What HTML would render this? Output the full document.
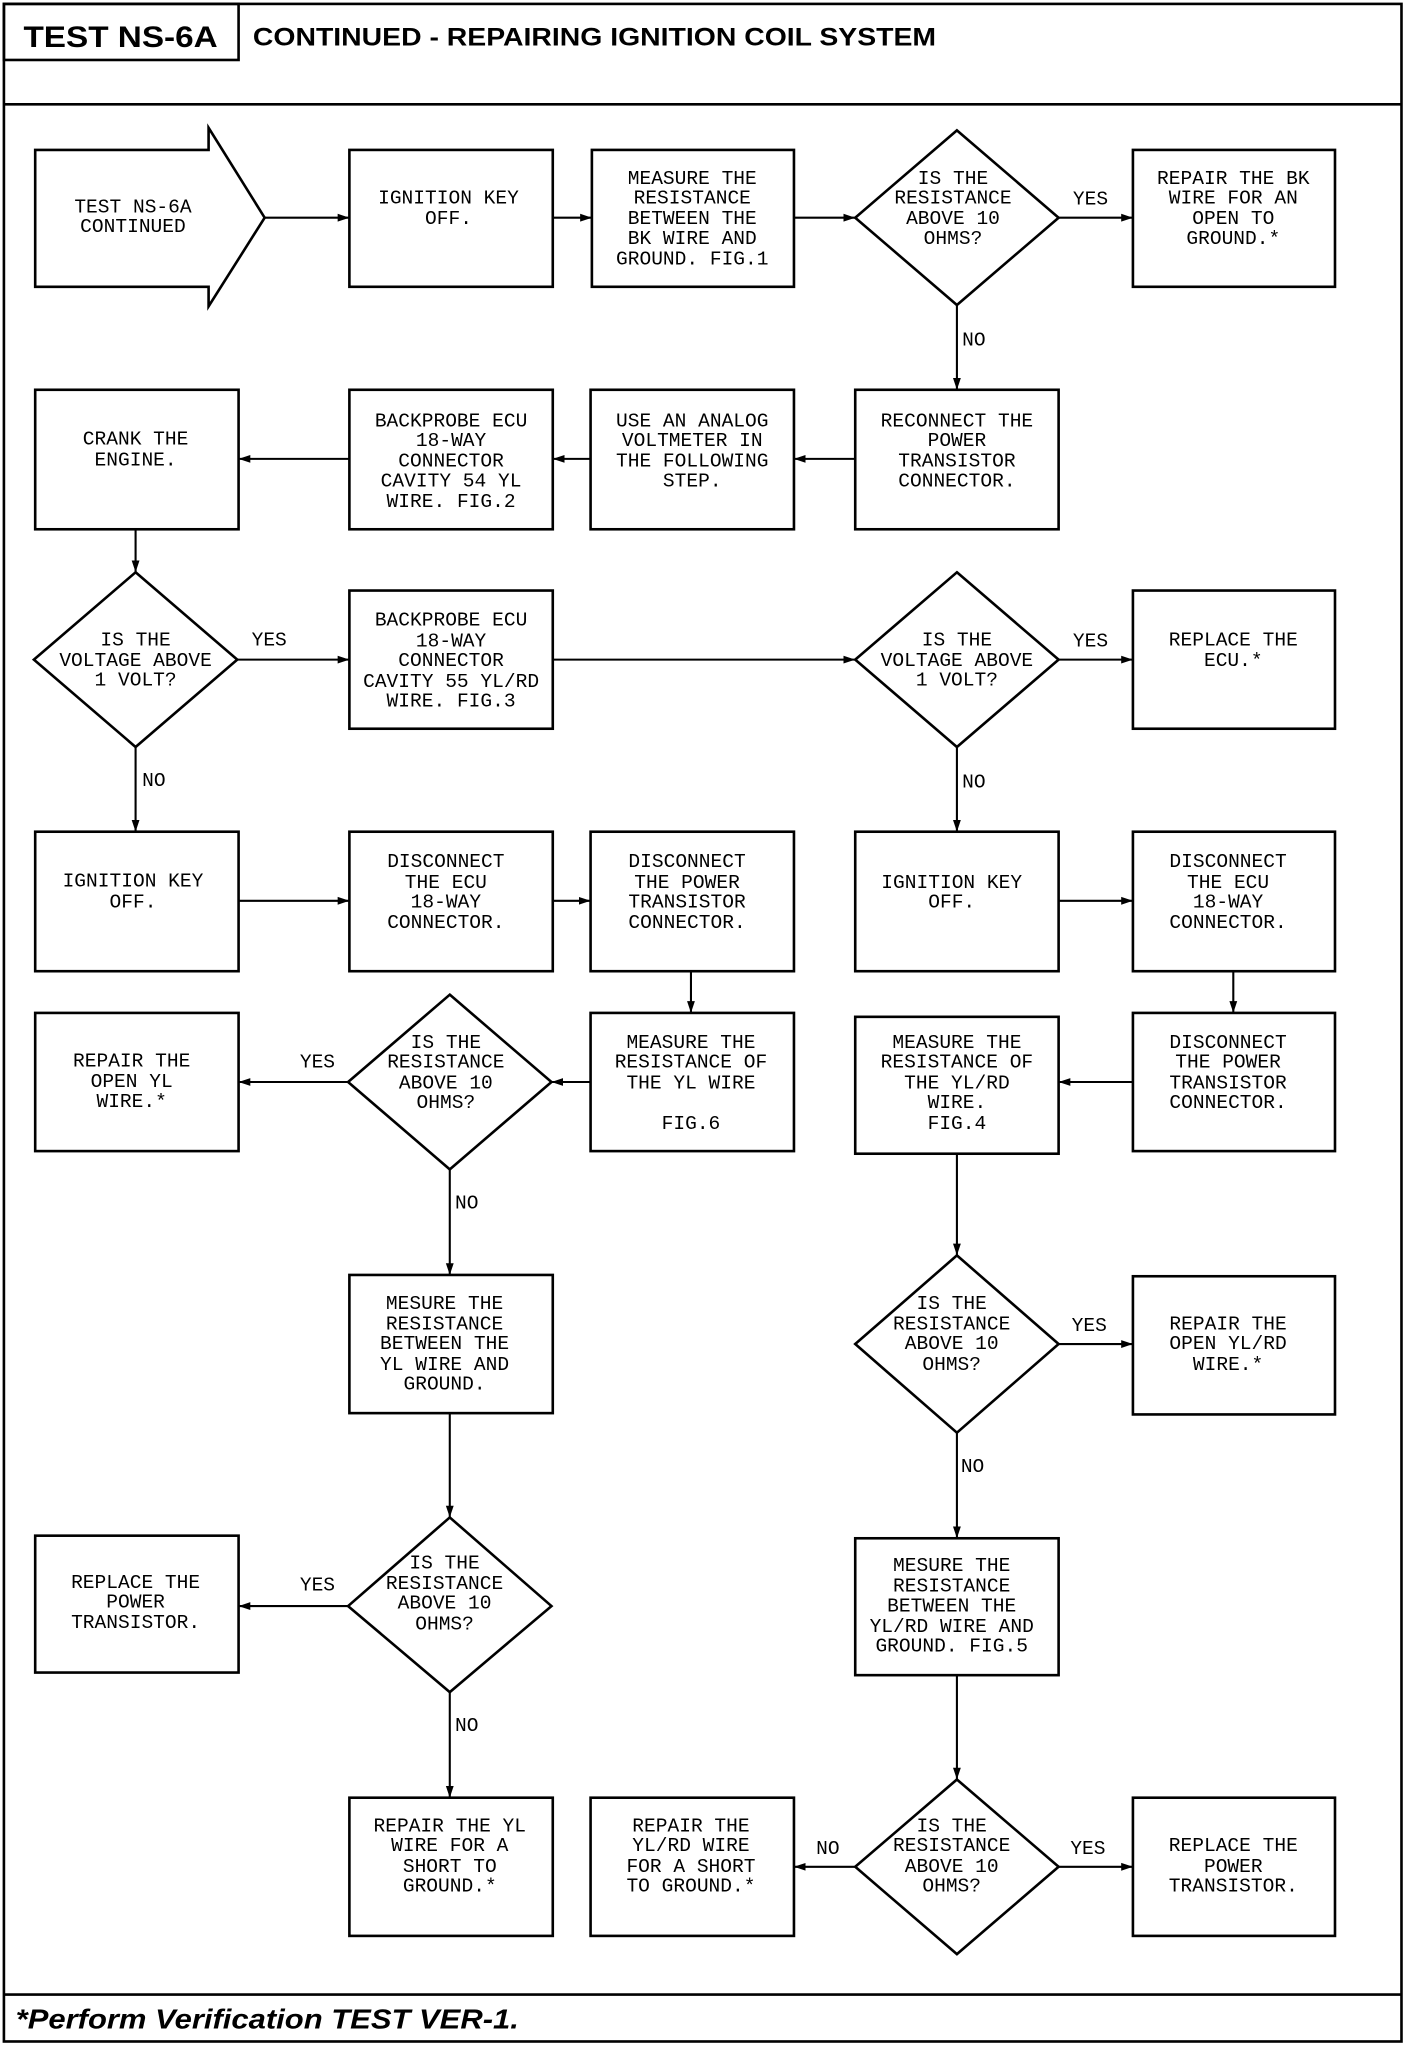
<!DOCTYPE html>
<html><head><meta charset="utf-8"><style>
html,body{margin:0;padding:0;background:#fff}
svg{display:block}
.t{font-family:"Liberation Mono",monospace;font-size:15px;text-anchor:middle;fill:#000}
.l{font-family:"Liberation Mono",monospace;font-size:15px;fill:#000}
</style></head><body>
<svg width="1408" height="2048" viewBox="0 0 1080 1571" preserveAspectRatio="none" xmlns="http://www.w3.org/2000/svg">
<defs><marker id="a" markerWidth="10" markerHeight="8" refX="9" refY="4" orient="auto" markerUnits="userSpaceOnUse"><path d="M0,1 L9,4 L0,7 Z" fill="#000"/></marker></defs>
<g fill="none" stroke="#000" stroke-width="2">
<rect x="3" y="3" width="1072" height="1563"/>
<rect x="3" y="3" width="180" height="43"/>
<line x1="3" y1="80" x2="1075" y2="80"/>
<line x1="3" y1="1530" x2="1075" y2="1530"/>
<path d="M27,115 H160 V98 L203,167 L160,235 V220 H27 Z"/>
<rect x="268" y="115" width="156" height="105"/>
<rect x="454" y="115" width="155" height="105"/>
<path d="M734,100 L812,167 L734,234 L656,167 Z"/>
<rect x="869" y="115" width="155" height="105"/>
<rect x="27" y="299" width="156" height="107"/>
<rect x="268" y="299" width="156" height="107"/>
<rect x="453" y="299" width="156" height="107"/>
<rect x="656" y="299" width="156" height="107"/>
<path d="M104,439 L182,506 L104,573 L26,506 Z"/>
<rect x="268" y="453" width="156" height="106"/>
<path d="M734,439 L812,506 L734,573 L656,506 Z"/>
<rect x="869" y="453" width="155" height="106"/>
<rect x="27" y="638" width="156" height="107"/>
<rect x="268" y="638" width="156" height="107"/>
<rect x="453" y="638" width="156" height="107"/>
<rect x="656" y="638" width="156" height="107"/>
<rect x="869" y="638" width="155" height="107"/>
<rect x="27" y="777" width="156" height="106"/>
<path d="M345,763 L423,830 L345,897 L267,830 Z"/>
<rect x="453" y="777" width="156" height="106"/>
<rect x="656" y="780" width="156" height="105"/>
<rect x="869" y="777" width="155" height="106"/>
<rect x="268" y="978" width="156" height="106"/>
<path d="M734,963 L812,1031 L734,1099 L656,1031 Z"/>
<rect x="869" y="979" width="155" height="106"/>
<rect x="27" y="1178" width="156" height="105"/>
<path d="M345,1164 L423,1232 L345,1298 L267,1232 Z"/>
<rect x="656" y="1180" width="156" height="105"/>
<rect x="268" y="1379" width="156" height="106"/>
<rect x="453" y="1379" width="156" height="106"/>
<path d="M734,1365 L812,1432 L734,1499 L656,1432 Z"/>
<rect x="869" y="1379" width="155" height="106"/>
</g>
<g stroke="#000" stroke-width="1.6" marker-end="url(#a)">
<line x1="203" y1="167" x2="268" y2="167"/>
<line x1="424" y1="167" x2="454" y2="167"/>
<line x1="609" y1="167" x2="656" y2="167"/>
<line x1="812" y1="167" x2="869" y2="167"/>
<line x1="734" y1="234" x2="734" y2="299"/>
<line x1="656" y1="352" x2="609" y2="352"/>
<line x1="453" y1="352" x2="424" y2="352"/>
<line x1="268" y1="352" x2="183" y2="352"/>
<line x1="104" y1="406" x2="104" y2="439"/>
<line x1="182" y1="506" x2="268" y2="506"/>
<line x1="424" y1="506" x2="656" y2="506"/>
<line x1="812" y1="506" x2="869" y2="506"/>
<line x1="734" y1="573" x2="734" y2="638"/>
<line x1="104" y1="573" x2="104" y2="638"/>
<line x1="183" y1="691" x2="268" y2="691"/>
<line x1="424" y1="691" x2="453" y2="691"/>
<line x1="530" y1="745" x2="530" y2="777"/>
<line x1="812" y1="691" x2="869" y2="691"/>
<line x1="946" y1="745" x2="946" y2="777"/>
<line x1="453" y1="830" x2="423" y2="830"/>
<line x1="267" y1="830" x2="183" y2="830"/>
<line x1="869" y1="830" x2="812" y2="830"/>
<line x1="345" y1="897" x2="345" y2="978"/>
<line x1="734" y1="885" x2="734" y2="963"/>
<line x1="812" y1="1031" x2="869" y2="1031"/>
<line x1="734" y1="1099" x2="734" y2="1180"/>
<line x1="345" y1="1084" x2="345" y2="1164"/>
<line x1="267" y1="1232" x2="183" y2="1232"/>
<line x1="345" y1="1298" x2="345" y2="1379"/>
<line x1="734" y1="1285" x2="734" y2="1365"/>
<line x1="656" y1="1432" x2="609" y2="1432"/>
<line x1="812" y1="1432" x2="869" y2="1432"/>
</g>
<text x="18" y="36" textLength="149" lengthAdjust="spacingAndGlyphs" font-family="Liberation Sans,sans-serif" font-weight="bold" font-size="23">TEST NS-6A</text>
<text x="194" y="35" textLength="524" lengthAdjust="spacingAndGlyphs" font-family="Liberation Sans,sans-serif" font-weight="bold" font-size="19">CONTINUED  - REPAIRING IGNITION COIL SYSTEM</text>
<text x="12" y="1556" textLength="386" lengthAdjust="spacingAndGlyphs" font-family="Liberation Sans,sans-serif" font-weight="bold" font-style="italic" font-size="21">*Perform Verification TEST VER-1.</text>
<g class="t">
<text x="102" y="163">TEST NS-6A</text><text x="102" y="178">CONTINUED</text>
<text x="344" y="156">IGNITION KEY</text><text x="344" y="172">OFF.</text>
<text x="531" y="141">MEASURE THE</text><text x="531" y="156">RESISTANCE</text><text x="531" y="172">BETWEEN THE</text><text x="531" y="187">BK WIRE AND</text><text x="531" y="203">GROUND. FIG.1</text>
<text x="731" y="141">IS THE</text><text x="731" y="156">RESISTANCE</text><text x="731" y="172">ABOVE 10</text><text x="731" y="187">OHMS?</text>
<text x="946" y="141">REPAIR THE BK</text><text x="946" y="156">WIRE FOR AN</text><text x="946" y="172">OPEN TO</text><text x="946" y="187">GROUND.*</text>
<text x="104" y="341">CRANK THE</text><text x="104" y="357">ENGINE.</text>
<text x="346" y="327">BACKPROBE ECU</text><text x="346" y="342">18-WAY</text><text x="346" y="358">CONNECTOR</text><text x="346" y="373">CAVITY 54 YL</text><text x="346" y="389">WIRE. FIG.2</text>
<text x="531" y="327">USE AN ANALOG</text><text x="531" y="342">VOLTMETER IN</text><text x="531" y="358">THE FOLLOWING</text><text x="531" y="373">STEP.</text>
<text x="734" y="327">RECONNECT THE</text><text x="734" y="342">POWER</text><text x="734" y="358">TRANSISTOR</text><text x="734" y="373">CONNECTOR.</text>
<text x="104" y="495">IS THE</text><text x="104" y="511">VOLTAGE ABOVE</text><text x="104" y="526">1 VOLT?</text>
<text x="346" y="480">BACKPROBE ECU</text><text x="346" y="496">18-WAY</text><text x="346" y="511">CONNECTOR</text><text x="346" y="527">CAVITY 55 YL/RD</text><text x="346" y="542">WIRE. FIG.3</text>
<text x="734" y="495">IS THE</text><text x="734" y="511">VOLTAGE ABOVE</text><text x="734" y="526">1 VOLT?</text>
<text x="946" y="495">REPLACE THE</text><text x="946" y="511">ECU.*</text>
<text x="102" y="680">IGNITION KEY</text><text x="102" y="696">OFF.</text>
<text x="342" y="665">DISCONNECT</text><text x="342" y="681">THE ECU</text><text x="342" y="696">18-WAY</text><text x="342" y="712">CONNECTOR.</text>
<text x="527" y="665">DISCONNECT</text><text x="527" y="681">THE POWER</text><text x="527" y="696">TRANSISTOR</text><text x="527" y="712">CONNECTOR.</text>
<text x="730" y="681">IGNITION KEY</text><text x="730" y="696">OFF.</text>
<text x="942" y="665">DISCONNECT</text><text x="942" y="681">THE ECU</text><text x="942" y="696">18-WAY</text><text x="942" y="712">CONNECTOR.</text>
<text x="101" y="818">REPAIR THE</text><text x="101" y="834">OPEN YL</text><text x="101" y="849">WIRE.*</text>
<text x="342" y="804">IS THE</text><text x="342" y="819">RESISTANCE</text><text x="342" y="835">ABOVE 10</text><text x="342" y="850">OHMS?</text>
<text x="530" y="804">MEASURE THE</text><text x="530" y="819">RESISTANCE OF</text><text x="530" y="835">THE YL WIRE</text><text x="530" y="866">FIG.6</text>
<text x="734" y="804">MEASURE THE</text><text x="734" y="819">RESISTANCE OF</text><text x="734" y="835">THE YL/RD</text><text x="734" y="850">WIRE.</text><text x="734" y="866">FIG.4</text>
<text x="942" y="804">DISCONNECT</text><text x="942" y="819">THE POWER</text><text x="942" y="835">TRANSISTOR</text><text x="942" y="850">CONNECTOR.</text>
<text x="341" y="1004">MESURE THE</text><text x="341" y="1020">RESISTANCE</text><text x="341" y="1035">BETWEEN THE</text><text x="341" y="1051">YL WIRE AND</text><text x="341" y="1066">GROUND.</text>
<text x="730" y="1004">IS THE</text><text x="730" y="1020">RESISTANCE</text><text x="730" y="1035">ABOVE 10</text><text x="730" y="1051">OHMS?</text>
<text x="942" y="1020">REPAIR THE</text><text x="942" y="1035">OPEN YL/RD</text><text x="942" y="1051">WIRE.*</text>
<text x="104" y="1218">REPLACE THE</text><text x="104" y="1233">POWER</text><text x="104" y="1249">TRANSISTOR.</text>
<text x="341" y="1203">IS THE</text><text x="341" y="1219">RESISTANCE</text><text x="341" y="1234">ABOVE 10</text><text x="341" y="1250">OHMS?</text>
<text x="730" y="1205">MESURE THE</text><text x="730" y="1221">RESISTANCE</text><text x="730" y="1236">BETWEEN THE</text><text x="730" y="1252">YL/RD WIRE AND</text><text x="730" y="1267">GROUND. FIG.5</text>
<text x="345" y="1405">REPAIR THE YL</text><text x="345" y="1420">WIRE FOR A</text><text x="345" y="1436">SHORT TO</text><text x="345" y="1451">GROUND.*</text>
<text x="530" y="1405">REPAIR THE</text><text x="530" y="1420">YL/RD WIRE</text><text x="530" y="1436">FOR A SHORT</text><text x="530" y="1451">TO GROUND.*</text>
<text x="730" y="1405">IS THE</text><text x="730" y="1420">RESISTANCE</text><text x="730" y="1436">ABOVE 10</text><text x="730" y="1451">OHMS?</text>
<text x="946" y="1420">REPLACE THE</text><text x="946" y="1436">POWER</text><text x="946" y="1451">TRANSISTOR.</text>
</g>
<g class="l">
<text x="823" y="157">YES</text><text x="738" y="265">NO</text>
<text x="193" y="495">YES</text><text x="823" y="496">YES</text>
<text x="109" y="603">NO</text><text x="738" y="604">NO</text>
<text x="230" y="819">YES</text><text x="349" y="927">NO</text>
<text x="822" y="1021">YES</text><text x="737" y="1129">NO</text>
<text x="230" y="1220">YES</text><text x="349" y="1328">NO</text>
<text x="626" y="1422">NO</text><text x="821" y="1422">YES</text>
</g>
</svg>
</body></html>
